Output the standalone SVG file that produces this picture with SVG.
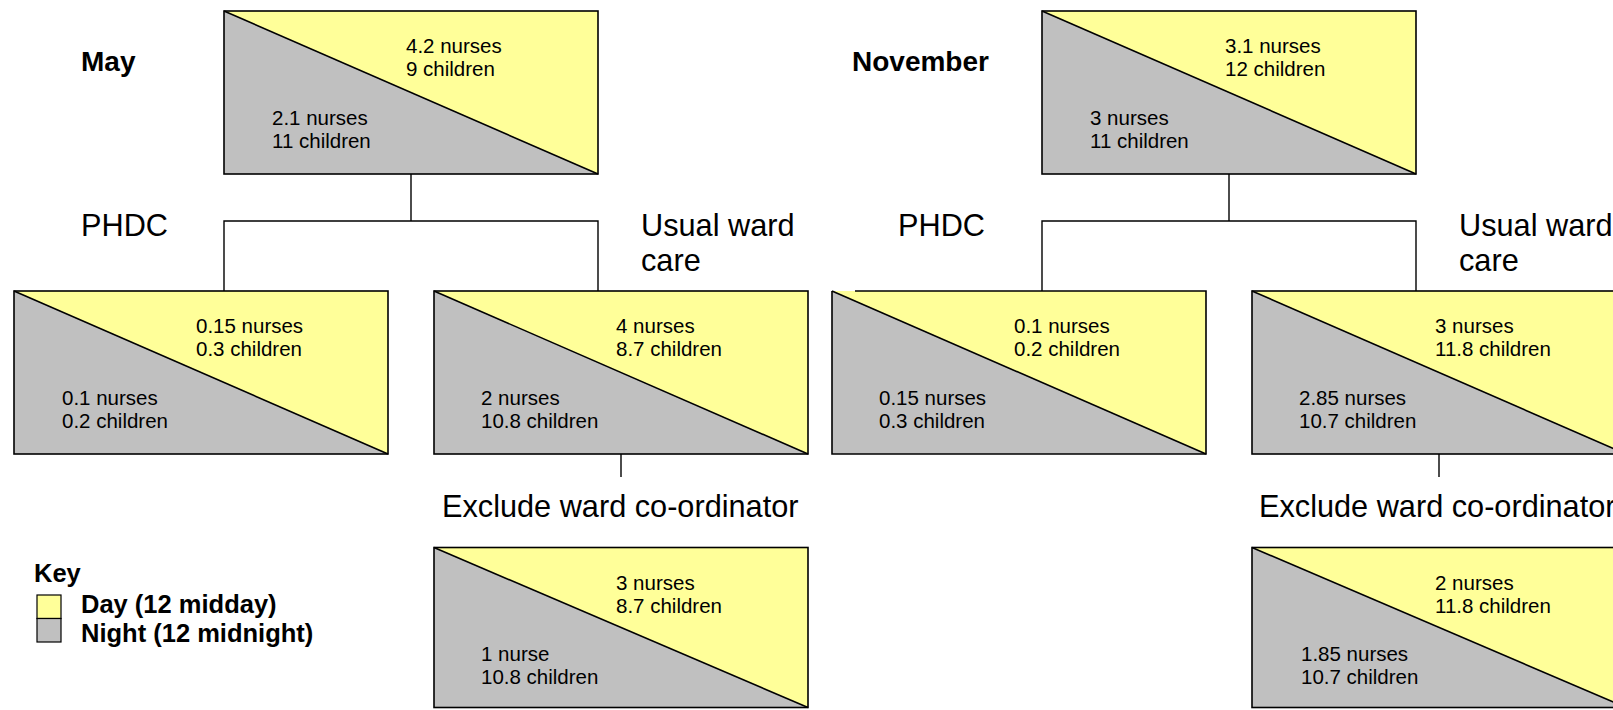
<svg xmlns="http://www.w3.org/2000/svg" xmlns:xlink="http://www.w3.org/1999/xlink" width="1613" height="710" viewBox="0 0 1613 710">
  <style>
    .day { fill: #FFFF99; }
    .night { fill: #C0C0C0; }
    .frame { fill: none; stroke: #000; stroke-width: 1.6; }
    .diag { stroke: #000; stroke-width: 1.6; }
    .conn { fill: none; stroke: #000; stroke-width: 1.4; }
    .num { font-family: "Liberation Sans", Arial, sans-serif; font-size: 20.5px; fill: #000; }
    .label { font-family: "Liberation Sans", Arial, sans-serif; font-size: 30.7px; fill: #000; }
    .title { font-family: "Liberation Sans", Arial, sans-serif; font-size: 28px; font-weight: bold; fill: #000; }
    .key { font-family: "Liberation Sans", Arial, sans-serif; font-size: 25.5px; font-weight: bold; fill: #000; }
  </style>
  <defs>
    <!-- split box: day (upper right) and night (lower left) halves -->
    <g id="split">
      <polygon class="day" points="0,0 374,0 374,163"/>
      <polygon class="night" points="0,0 374,163 0,163"/>
      <line class="diag" x1="0" y1="0" x2="374" y2="163"/>
    </g>
    <g id="split-short">
      <polygon class="day" points="0,0 374,0 374,160"/>
      <polygon class="night" points="0,0 374,160 0,160"/>
      <line class="diag" x1="0" y1="0" x2="374" y2="160"/>
    </g>
  </defs>

  <rect width="1613" height="710" fill="#fff"/>

  <!-- connectors -->
  <g id="connectors">
    <path class="conn" d="M411,174 V221"/>
    <path class="conn" d="M224,291 V221 H598 V291"/>
    <path class="conn" d="M621,454 V477"/>
    <path class="conn" d="M1229,174 V221"/>
    <path class="conn" d="M1042,291 V221 H1416 V291"/>
    <path class="conn" d="M1439,454 V477"/>
  </g>

  <!-- May -->
  <text class="title" x="81" y="71">May</text>
  <text class="label" x="81" y="236">PHDC</text>
  <text class="label" x="641" y="236">Usual ward</text>
  <text class="label" x="641" y="271">care</text>
  <text class="label" x="442" y="517">Exclude ward co-ordinator</text>

  <g id="may-total">
    <use xlink:href="#split" x="224" y="11"/>
    <rect class="frame" x="224" y="11" width="374" height="163"/>
    <text class="num" x="406" y="53">4.2 nurses</text>
    <text class="num" x="406" y="76">9 children</text>
    <text class="num" x="272" y="124.5">2.1 nurses</text>
    <text class="num" x="272" y="147.5">11 children</text>
  </g>

  <g id="may-phdc">
    <use xlink:href="#split" x="14" y="291"/>
    <rect class="frame" x="14" y="291" width="374" height="163"/>
    <text class="num" x="196" y="333">0.15 nurses</text>
    <text class="num" x="196" y="356">0.3 children</text>
    <text class="num" x="62" y="404.5">0.1 nurses</text>
    <text class="num" x="62" y="427.5">0.2 children</text>
  </g>

  <g id="may-usual">
    <use xlink:href="#split" x="434" y="291"/>
    <rect class="frame" x="434" y="291" width="374" height="163"/>
    <text class="num" x="616" y="333">4 nurses</text>
    <text class="num" x="616" y="356">8.7 children</text>
    <text class="num" x="481" y="404.5">2 nurses</text>
    <text class="num" x="481" y="427.5">10.8 children</text>
  </g>

  <g id="may-exclude">
    <use xlink:href="#split-short" x="434" y="547.5"/>
    <rect class="frame" x="434" y="547.5" width="374" height="160"/>
    <text class="num" x="616" y="589.5">3 nurses</text>
    <text class="num" x="616" y="612.5">8.7 children</text>
    <text class="num" x="481" y="661">1 nurse</text>
    <text class="num" x="481" y="684">10.8 children</text>
  </g>

  <!-- November -->
  <text class="title" x="852" y="71">November</text>
  <text class="label" x="898" y="236">PHDC</text>
  <text class="label" x="1459" y="236">Usual ward</text>
  <text class="label" x="1459" y="271">care</text>
  <text class="label" x="1259" y="517">Exclude ward co-ordinator</text>

  <g id="nov-total">
    <use xlink:href="#split" x="1042" y="11"/>
    <rect class="frame" x="1042" y="11" width="374" height="163"/>
    <text class="num" x="1225" y="53">3.1 nurses</text>
    <text class="num" x="1225" y="76">12 children</text>
    <text class="num" x="1090" y="124.5">3 nurses</text>
    <text class="num" x="1090" y="147.5">11 children</text>
  </g>

  <g id="nov-phdc">
    <use xlink:href="#split" x="832" y="291"/>
    <path class="frame" d="M855,291 H1206 V454 H832 V291"/>
    <text class="num" x="1014" y="333">0.1 nurses</text>
    <text class="num" x="1014" y="356">0.2 children</text>
    <text class="num" x="879" y="404.5">0.15 nurses</text>
    <text class="num" x="879" y="427.5">0.3 children</text>
  </g>

  <g id="nov-usual">
    <use xlink:href="#split" x="1252" y="291"/>
    <rect class="frame" x="1252" y="291" width="374" height="163"/>
    <text class="num" x="1435" y="333">3 nurses</text>
    <text class="num" x="1435" y="356">11.8 children</text>
    <text class="num" x="1299" y="404.5">2.85 nurses</text>
    <text class="num" x="1299" y="427.5">10.7 children</text>
  </g>

  <g id="nov-exclude">
    <use xlink:href="#split-short" x="1252" y="547.5"/>
    <rect class="frame" x="1252" y="547.5" width="374" height="160"/>
    <text class="num" x="1435" y="589.5">2 nurses</text>
    <text class="num" x="1435" y="612.5">11.8 children</text>
    <text class="num" x="1301" y="661">1.85 nurses</text>
    <text class="num" x="1301" y="684">10.7 children</text>
  </g>

  <!-- legend -->
  <g id="legend">
    <text class="key" x="34" y="582">Key</text>
    <rect class="day" x="37" y="595" width="24" height="23.5" stroke="#000" stroke-width="1.2"/>
    <rect class="night" x="37" y="618.5" width="24" height="23.5" stroke="#000" stroke-width="1.2"/>
    <text class="key" x="81" y="613">Day (12 midday)</text>
    <text class="key" x="81" y="642">Night (12 midnight)</text>
  </g>
</svg>
